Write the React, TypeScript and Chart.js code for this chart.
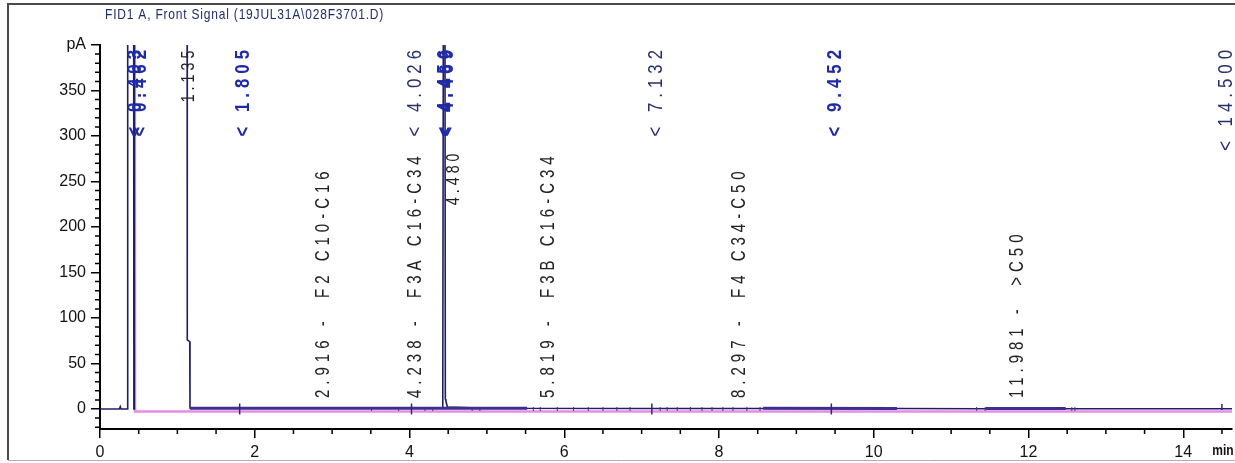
import React, { useEffect, useRef } from "react";
import { Chart, registerables } from "chart.js";

Chart.register(...registerables);

const FONT = "'Liberation Sans', Arial, sans-serif";

const TITLE = "FID1 A, Front Signal (19JUL31A\\028F3701.D)";

// Axes
const X_MIN = 0;
const X_MAX = 14.63;
const Y_MIN = -22;
const Y_MAX = 400;
const X_MAJOR = [0, 2, 4, 6, 8, 10, 12, 14];
const X_MINOR = [0.5, 1, 1.5, 2.5, 3, 3.5, 4.5, 5, 5.5, 6.5, 7, 7.5, 8.5, 9, 9.5, 10.5, 11, 11.5, 12.5, 13, 13.5, 14.5];
const X_UNIT_LABEL = "min";
const X_UNIT_AT = 14.5;
const Y_MAJOR = [0, 50, 100, 150, 200, 250, 300, 350, 400];
const Y_MINOR = [-20, -10, 10, 20, 30, 40, 60, 70, 80, 90, 110, 120, 130, 140, 160, 170, 180, 190, 210, 220, 230, 240, 260, 270, 280, 290, 310, 320, 330, 340, 360, 370, 380, 390];
const Y_UNIT_LABEL = "pA";

// FID signal (min, pA)
const SIGNAL_T = [0, 0.25, 0.262, 0.272, 0.355, 0.358, 0.435, 0.438, 0.441, 0.444, 1.126, 1.128, 1.16, 1.163, 2.0, 3.5, 4.43, 4.438, 4.458, 4.463, 4.47, 4.49, 5.0, 7.0, 10.3, 11.4, 12.6, 14.63];
const SIGNAL_PA = [0, 0, 2.5, 0, 0, 480, 480, 0, 0, 480, 480, 76, 74, 1.0, 0.8, 0.8, 0.9, 480, 480, 11, 9, 2, 0.8, 0.6, 0.6, 0.3, 0.3, 0.2];

// Integration baseline segments (null = gap)
const BASE_T = [1.163, 5.52, 5.53, 8.57, 10.3, 10.31, 11.45, 12.48];
const BASE_PA = [0.8, 0.8, null, 0.7, 0.6, null, 0.4, 0.4];

// Second (magenta) trace
const BLANK_T = [0.45, 0.453, 14.63];
const BLANK_PA = [480, -2.8, -2.8];

// Timed events (blue markers)
const EVENT_T = [0.403, 0.462, 1.805, 4.026, 4.41, 4.43, 7.132, 9.452, 14.5];
const EVENT_TEXT = ["< 0.403", "< 0.462", "< 1.805", "< 4.026", "< 4.456", "< 4.469", "< 7.132", "< 9.452", "< 14.500"];
const EVENT_BOLD = [true, true, true, false, true, true, false, true, false];
const EVENT_TICK_T = [1.805, 4.026, 7.132, 9.452];
const EVENT_END_TICK_T = [14.5];

// Small peak marks on baseline
const MARK_T = [3.51, 3.86, 4.2, 4.3, 4.81, 4.91, 5.6, 5.69, 5.91, 6.12, 6.31, 6.5, 6.68, 6.85, 7.24, 7.33, 7.46, 7.63, 7.78, 7.91, 8.05, 8.18, 8.36, 8.53, 11.33, 11.44, 12.56, 12.6];

// Peak / group labels (black)
const PEAK_LABEL_T = [1.14, 4.56];
const PEAK_LABEL_TEXT = ["1.135", "4.480"];
const PEAK_LABEL_PA = [337, 224];
const GROUP_LABEL_T = [2.87, 4.07, 5.78, 8.25, 11.85];
const GROUP_LABEL_TEXT = ["2.916 -  F2 C10-C16", "4.238 -  F3A C16-C34", "5.819 -  F3B C16-C34", "8.297 -  F4 C34-C50", "11.981 -  >C50"];
const GROUP_LABEL_PA = [12, 12, 12, 12, 12];

function pts(t: number[], v: (number | null)[]) {
  return t.map((x, i) => ({ x, y: v[i] }));
}

// draws text rotated -90deg, condensed along the text direction
function vtext(ctx: CanvasRenderingContext2D, text: string, x: number, y: number, align: CanvasTextAlign, font: string, color: string, spacing: number, squeeze: number) {
  ctx.save();
  ctx.translate(x, y);
  ctx.rotate(-Math.PI / 2);
  ctx.scale(squeeze, 1);
  ctx.font = font;
  ctx.fillStyle = color;
  ctx.textAlign = align;
  ctx.textBaseline = "middle";
  (ctx as any).letterSpacing = spacing / squeeze + "px";
  ctx.fillText(text, 0, 1);
  ctx.restore();
}

const overlay = {
  id: "overlay",
  beforeDraw(chart: any) {
    const { ctx, width, height } = chart;
    ctx.save();
    ctx.fillStyle = "#ffffff";
    ctx.fillRect(0, 0, width, height);
    ctx.restore();
  },
  afterDraw(chart: any) {
    const { ctx, width, height } = chart;
    const xs = chart.scales.x;
    const ys = chart.scales.y;
    const area = chart.chartArea;
    ctx.save();
    // frame
    ctx.strokeStyle = "#4a4a4a";
    ctx.lineWidth = 2;
    ctx.beginPath();
    ctx.moveTo(8, height - 3);
    ctx.lineTo(8, 4);
    ctx.lineTo(width, 4);
    ctx.stroke();
    ctx.strokeStyle = "#b0b0b0";
    ctx.lineWidth = 1;
    ctx.beginPath();
    ctx.moveTo(8, height - 2.5);
    ctx.lineTo(width, height - 2.5);
    ctx.stroke();

    // title (condensed)
    ctx.save();
    ctx.translate(area.left + 5, 15);
    ctx.scale(0.8, 1);
    ctx.font = "15px " + FONT;
    (ctx as any).letterSpacing = "1px";
    ctx.fillStyle = "#1f2d6b";
    ctx.textAlign = "left";
    ctx.textBaseline = "middle";
    ctx.fillText(TITLE, 0, 0);
    ctx.restore();

    // minor ticks
    ctx.strokeStyle = "#000";
    ctx.lineWidth = 1.5;
    ctx.beginPath();
    X_MINOR.forEach((v) => {
      const px = xs.getPixelForValue(v);
      ctx.moveTo(px, area.bottom);
      ctx.lineTo(px, area.bottom + 5);
    });
    Y_MINOR.forEach((v) => {
      const py = ys.getPixelForValue(v);
      ctx.moveTo(area.left, py);
      ctx.lineTo(area.left - 5, py);
    });
    ctx.stroke();

    // unit label on x axis
    ctx.save();
    ctx.translate(xs.getPixelForValue(X_UNIT_AT) + 1, area.bottom + 14);
    ctx.scale(0.8, 1);
    ctx.font = "bold 15px " + FONT;
    ctx.fillStyle = "#111";
    ctx.textAlign = "center";
    ctx.textBaseline = "top";
    ctx.fillText(X_UNIT_LABEL, 0, 0);
    ctx.restore();

    // baseline event ticks
    const y0 = ys.getPixelForValue(0);
    ctx.strokeStyle = "#2a2a80";
    ctx.lineWidth = 1.5;
    ctx.beginPath();
    EVENT_TICK_T.forEach((t) => {
      const px = xs.getPixelForValue(t);
      ctx.moveTo(px, y0 - 5.5);
      ctx.lineTo(px, y0 + 5.5);
    });
    EVENT_END_TICK_T.forEach((t) => {
      const px = xs.getPixelForValue(t);
      ctx.moveTo(px, y0 - 5);
      ctx.lineTo(px, y0 + 1);
    });
    ctx.stroke();
    ctx.lineWidth = 1;
    ctx.strokeStyle = "#3a3a80";
    ctx.beginPath();
    MARK_T.forEach((t) => {
      const px = xs.getPixelForValue(t);
      ctx.moveTo(px, y0 - 2);
      ctx.lineTo(px, y0 + 2);
    });
    ctx.stroke();

    // blue event labels
    const top = ys.getPixelForValue(Y_MAX);
    EVENT_T.forEach((t, i) => {
      const px = xs.getPixelForValue(t) + 3;
      const bold = EVENT_BOLD[i];
      vtext(ctx, EVENT_TEXT[i], px, top, "right", (bold ? "bold " : "") + "21px " + FONT, bold ? "#1f2aa8" : "#27306e", 5, 0.8);
    });

    // peak labels
    PEAK_LABEL_T.forEach((t, i) => {
      vtext(ctx, PEAK_LABEL_TEXT[i], xs.getPixelForValue(t), ys.getPixelForValue(PEAK_LABEL_PA[i]), "left", "19px " + FONT, "#222", 4, 0.75);
    });
    GROUP_LABEL_T.forEach((t, i) => {
      vtext(ctx, GROUP_LABEL_TEXT[i], xs.getPixelForValue(t), ys.getPixelForValue(GROUP_LABEL_PA[i]), "left", "20px " + FONT, "#222", 5, 0.75);
    });
    ctx.restore();
  },
};

export default function App() {
  const ref = useRef<HTMLCanvasElement | null>(null);
  useEffect(() => {
    document.body.style.margin = "0";
    const canvas = ref.current!;
    const chart = new Chart(canvas, {
      type: "line",
      data: {
        datasets: [
          {
            label: "baseline",
            data: pts(BASE_T, BASE_PA) as any,
            borderColor: "#3b2f8f",
            borderWidth: 3,
            pointRadius: 0,
            spanGaps: false,
            tension: 0,
          },
          {
            label: "signal",
            data: pts(SIGNAL_T, SIGNAL_PA) as any,
            borderColor: "#1f1f66",
            borderWidth: 1.6,
            pointRadius: 0,
            tension: 0,
          },
          {
            label: "blank",
            data: pts(BLANK_T, BLANK_PA) as any,
            borderColor: "rgba(225,120,225,0.85)",
            borderWidth: 2.5,
            pointRadius: 0,
            tension: 0,
          },
        ],
      },
      options: {
        responsive: false,
        animation: false,
        layout: { padding: { top: 45, right: 3, left: 0, bottom: 0 } },
        plugins: { legend: { display: false }, tooltip: { enabled: false }, title: { display: false } },
        scales: {
          x: {
            type: "linear",
            min: X_MIN,
            max: X_MAX,
            afterBuildTicks: (axis: any) => {
              axis.ticks = X_MAJOR.map((v) => ({ value: v }));
            },
            afterFit: (axis: any) => {
              axis.height = 34;
            },
            ticks: {
              autoSkip: false,
              maxRotation: 0,
              padding: 5,
              color: "#111",
              font: { family: FONT, size: 16 },
              callback: (v: any) => String(v),
            },
            grid: { drawOnChartArea: false, drawTicks: true, tickLength: 9, color: "#000", lineWidth: 1.5 },
            border: { display: true, color: "#000", width: 2 },
          },
          y: {
            type: "linear",
            min: Y_MIN,
            max: Y_MAX,
            afterBuildTicks: (axis: any) => {
              axis.ticks = Y_MAJOR.map((v) => ({ value: v }));
            },
            afterFit: (axis: any) => {
              axis.width = 100;
            },
            ticks: {
              autoSkip: false,
              padding: 5,
              color: "#111",
              font: { family: FONT, size: 16 },
              callback: (v: any) => (v === Y_MAX ? Y_UNIT_LABEL : String(v)),
            },
            grid: { drawOnChartArea: false, drawTicks: true, tickLength: 9, color: "#000", lineWidth: 1.5 },
            border: { display: true, color: "#000", width: 2 },
          },
        },
      },
      plugins: [overlay],
    });
    return () => chart.destroy();
  }, []);
  return (
    <div style={{ width: 1235, height: 463 }}>
      <canvas ref={ref} width={1235} height={463} style={{ display: "block" }} />
    </div>
  );
}
